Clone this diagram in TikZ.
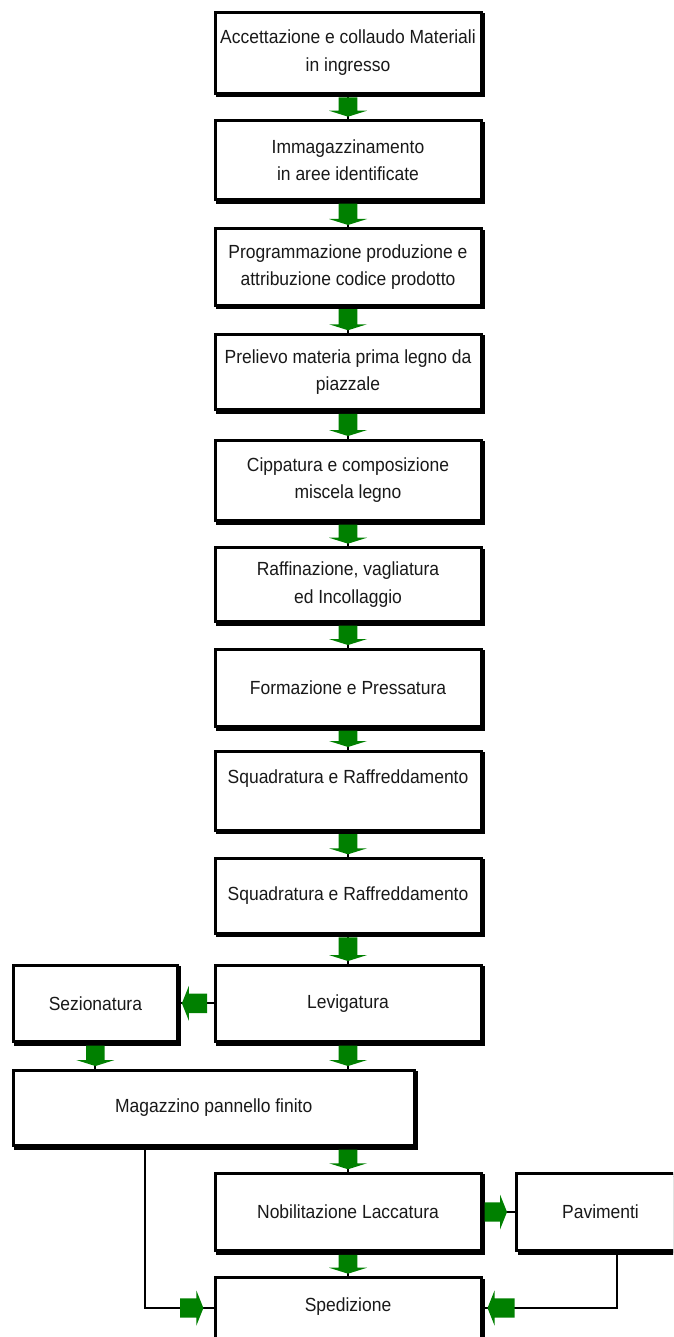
\documentclass[tikz,border=0pt]{standalone}
\usepackage{fontspec}
\setmainfont{Liberation Sans}[FakeStretch=0.92]
\usetikzlibrary{calc}
\definecolor{arrowgreen}{RGB}{0,128,0}
\definecolor{textdark}{RGB}{25,25,25}
\newcommand\boxfont{\fontsize{19}{27.5}\selectfont}
% vertical green block arrow: #1 source point, #2 target point
\newcommand\gdown[2]{%
  \draw[conn] #1 -- #2;
  \fill[arrowgreen] let \p1=#1, \p2=#2 in
    (\x2-9.3pt,\y1-4pt) -- (\x2+9.3pt,\y1-4pt) -- (\x2+9.3pt,\y2+10pt) --
    (\x2+19pt,\y2+10pt) -- (\x2,\y2+4pt) -- (\x2-19pt,\y2+10pt) --
    (\x2-9.3pt,\y2+10pt) -- cycle;}
% horizontal green block arrow: #1 stem start, #2 tip, #3 direction (+1 right, -1 left)
\newcommand\ghor[3]{%
  \fill[arrowgreen] let \p1=#1, \p2=#2 in
    (\x1,\y2+9.7pt) -- (\x2-#3*7pt,\y2+9.7pt) -- (\x2-#3*7pt,\y2+17.5pt) --
    (\x2,\y2) -- (\x2-#3*7pt,\y2-17.5pt) -- (\x2-#3*7pt,\y2-9.7pt) --
    (\x1,\y2-9.7pt) -- cycle;}
\begin{document}
\begin{tikzpicture}[x=1pt,y=-1pt,
  box/.style={draw=black, line width=3pt, fill=white, inner sep=0pt, outer sep=0pt,
    align=center, font=\boxfont, text=textdark, minimum width=266pt,
    preaction={draw=black, fill=black, line width=3pt,
      transform canvas={shift={(2.5pt,-2.5pt)}}}},
  conn/.style={draw=black, line width=2pt}]
\clip (0,0) rectangle (673,1337);
\fill[white] (0,0) rectangle (673,1337);

\node[box, minimum height=81pt]   (b1) at (348,52.8)  {Accettazione e collaudo Materiali\\in ingresso};
\node[box, minimum height=79pt]   (b2) at (348,160.2) {Immagazzinamento\\in aree identificate};
\node[box, minimum height=76pt]   (b3) at (348,267)   {Programmazione produzione e\\attribuzione codice prodotto};
\node[box, minimum height=75.5pt] (b4) at (348,372)   {Prelievo materia prima legno da\\piazzale};
\node[box, minimum height=80.5pt] (b5) at (348,480.3) {Cippatura e composizione\\miscela legno};
\node[box, minimum height=74pt]   (b6) at (348,584.7) {Raffinazione, vagliatura\\ed Incollaggio};
\node[box, minimum height=77.5pt] (b7) at (348,687.8) {Formazione e Pressatura};
\node[box, minimum height=79pt]   (b8) at (348,790.5) {Squadratura e Raffreddamento\\\mbox{}};
\node[box, minimum height=75pt]   (b9) at (348,895.8) {Squadratura e Raffreddamento};
\node[box, minimum height=76.5pt] (lev) at (348,1003.3) {Levigatura};
\node[box, minimum height=76.5pt, minimum width=164pt] (sez) at (95.4,1003.3) {Sezionatura};
\node[box, minimum height=75.5pt, minimum width=400.7pt] (mag) at (213.7,1107.8) {Magazzino pannello finito};
\node[box, minimum height=77.5pt] (nob) at (348,1212) {Nobilitazione Laccatura};
\node[box, minimum height=77.5pt, minimum width=167.6pt] (pav) at (600.5,1212) {Pavimenti};
\node[box, minimum height=77pt, text height=13.5pt, text depth=22pt] (sped) at (348,1316.2) {Spedizione};

% vertical flow
\gdown{(b1.south)}{(b2.north)}
\gdown{(b2.south)}{(b3.north)}
\gdown{(b3.south)}{(b4.north)}
\gdown{(b4.south)}{(b5.north)}
\gdown{(b5.south)}{(b6.north)}
\gdown{(b6.south)}{(b7.north)}
\gdown{(b7.south)}{(b8.north)}
\gdown{(b8.south)}{(b9.north)}
\gdown{(b9.south)}{(lev.north)}
\gdown{(lev.south)}{(lev.south |- mag.north)}
\gdown{(sez.south)}{(sez.south |- mag.north)}
\gdown{(nob.north |- mag.south)}{(nob.north)}
\gdown{(nob.south)}{(sped.north)}

% Levigatura -> Sezionatura
\draw[conn] (lev.west) -- (sez.east);
\ghor{($(lev.west)+(-8,0)$)}{($(sez.east)+(4.5,0)$)}{-1}

% Nobilitazione -> Pavimenti
\draw[conn] (nob.east) -- (pav.west);
\ghor{($(nob.east)+(3.5,0)$)}{($(pav.west)+(-9.7,0)$)}{1}

% Magazzino -> Spedizione
\coordinate (sl) at (144.5,1308);
\coordinate (sr) at (616.7,1308);
\draw[conn] (sl |- mag.south) -- (sl) -- (sl -| sped.west);
\ghor{($(sl -| sped.west)+(-35,0)$)}{($(sl -| sped.west)+(-11.6,0)$)}{1}

% Pavimenti -> Spedizione
\draw[conn] (sr |- pav.south) -- (sr) -- (sr -| sped.east);
\ghor{($(sr -| sped.east)+(33.5,0)$)}{($(sr -| sped.east)+(6.5,0)$)}{-1}
\end{tikzpicture}
\end{document}
